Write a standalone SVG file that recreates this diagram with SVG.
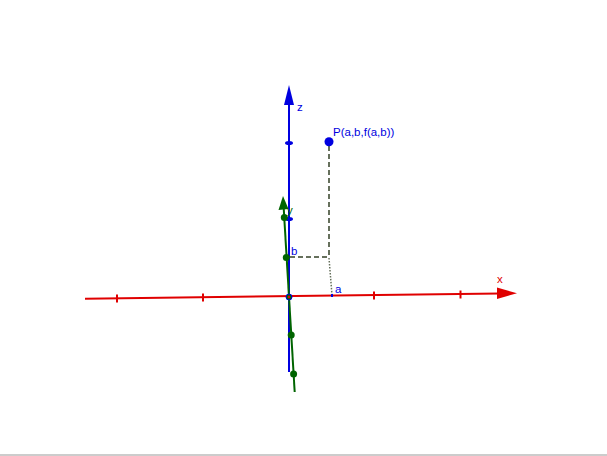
<svg xmlns="http://www.w3.org/2000/svg" width="607" height="456" viewBox="0 0 607 456">
<style>
.lbl{font-family:"Liberation Sans",Arial,sans-serif;font-size:11.5px}
.b{fill:#0000e0}
.r{fill:#e00000}
.dash{stroke:#66705c;stroke-width:2;fill:none;stroke-dasharray:5,3}
.dot{stroke:#66705c;stroke-width:1.5;fill:none;stroke-dasharray:1.5,1.5}
</style>
<rect width="607" height="456" fill="#fff"/>
<line x1="0" y1="455" x2="607" y2="455" stroke="#999" stroke-width="1"/>
<g id="connectors">
<line class="dash" x1="329" y1="146" x2="329" y2="257"/>
<line class="dash" x1="290" y1="257" x2="329" y2="257"/>
<line class="dot" x1="329" y1="258" x2="332" y2="295"/>
</g>
<g id="x-axis">
<line x1="85" y1="298.7" x2="500" y2="293.4" stroke="#e00000" stroke-width="2"/>
<polygon points="497,287.5 517,293.2 497,299" fill="#e00000"/>
<g stroke="#e00000" stroke-width="2">
<line x1="117" y1="294.5" x2="117" y2="302.5"/>
<line x1="203" y1="293.5" x2="203" y2="301.5"/>
<line x1="374" y1="291.5" x2="374" y2="299.5"/>
<line x1="460.5" y1="290.5" x2="460.5" y2="298.5"/>
</g>
<text class="lbl r" x="497" y="283">x</text>
</g>
<g id="z-axis">
<line x1="289" y1="372" x2="289" y2="100" stroke="#0000e0" stroke-width="2"/>
<polygon points="284,105 289,85 294,105" fill="#0000e0"/>
<ellipse cx="289" cy="143" rx="4" ry="2" fill="#0000e0"/>
<ellipse cx="289" cy="219" rx="4" ry="2" fill="#0000e0"/>
<text class="lbl b" x="297" y="111">z</text>
</g>
<g id="y-axis">
<line x1="283.5" y1="205" x2="294.7" y2="392" stroke="#006400" stroke-width="2"/>
<polygon points="278.5,210 283,196 288.5,209" fill="#006400"/>
<circle cx="284.3" cy="217.5" r="3.5" fill="#006400"/>
<circle cx="286.3" cy="257.5" r="3.5" fill="#006400"/>
<circle cx="291.2" cy="335" r="3.5" fill="#006400"/>
<circle cx="293.6" cy="374" r="3.5" fill="#006400"/>
<text class="lbl" x="287" y="214" fill="#006400">y</text>
</g>
<g id="origin">
<circle cx="289" cy="297" r="3" fill="#006400" stroke="#0000e0" stroke-width="1"/>
<circle cx="289" cy="297" r="1.2" fill="#e00000"/>
</g>
<g id="point-P">
<circle cx="329" cy="141.7" r="4.5" fill="#0000e0"/>
<text class="lbl b" x="333" y="136">P(a,b,f(a,b))</text>
</g>
<g id="point-a">
<rect x="331" y="294" width="2" height="3" fill="#0000e0"/>
<text class="lbl b" x="335" y="293">a</text>
</g>
<g id="point-b">
<text class="lbl b" x="291" y="255">b</text>
</g>
</svg>
